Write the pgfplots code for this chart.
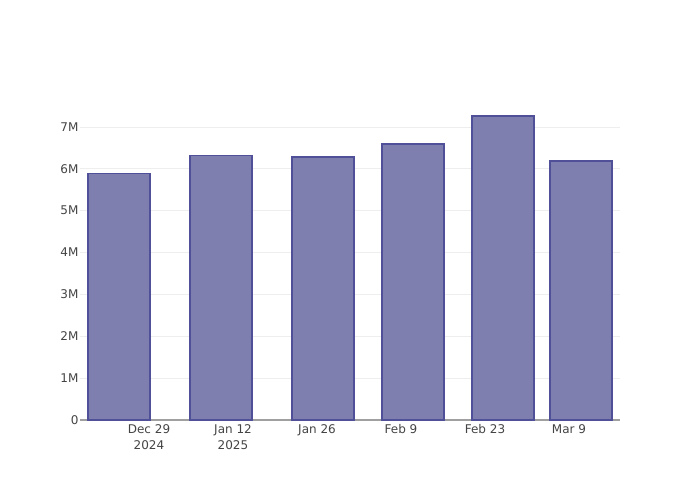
\documentclass[border=0pt]{standalone}
\usepackage{pgfplots}
\pgfplotsset{compat=1.18}
\usepackage{fontspec}
\setmainfont{DejaVu Sans}
\definecolor{barfill}{RGB}{127,127,175}
\definecolor{baredge}{RGB}{80,80,152}
\definecolor{txt}{RGB}{68,68,68}
\definecolor{gridc}{RGB}{238,238,238}
\definecolor{axc}{RGB}{160,160,160}
\begin{document}
\begin{tikzpicture}[x=1pt,y=1pt]
\useasboundingbox (0,0) rectangle (700,500);
\begin{axis}[
  at={(80pt,80pt)}, anchor=south west,
  scale only axis, width=540pt, height=320pt,
  xmin=-11.5, xmax=78.5, ymin=0, ymax=7.645,
  axis x line*=bottom, axis y line*=left,
  y axis line style={draw=none},
  x axis line style={draw=axc, line width=1.2pt},
  major tick length=0pt,
  ymajorgrids, grid style={draw=gridc, line width=0.8pt},
  ytick={0,1,2,3,4,5,6,7},
  yticklabels={0,1M,2M,3M,4M,5M,6M,7M},
  xtick={0,14,28,42,56,70},
  xticklabels={{Dec 29\\2024},{Jan 12\\2025},{Jan 26},{Feb 9},{Feb 23},{Mar 9}},
  xticklabel style={font=\fontsize{12}{16}\selectfont, text=txt, align=center, anchor=north, yshift=-1pt},
  yticklabel style={font=\fontsize{12}{14.5}\selectfont, text=txt, xshift=2pt},
  tick label style={/pgf/number format/assume math mode=true},
  ybar, bar width=10.3, bar shift=0pt,
  clip=false,
]
\addplot[fill=barfill, draw=baredge, line width=1.8pt] coordinates {
  (-5,5.89) (12,6.32) (29,6.28) (44,6.59) (59,7.27) (72,6.19)
};
\end{axis}
\end{tikzpicture}
\end{document}
